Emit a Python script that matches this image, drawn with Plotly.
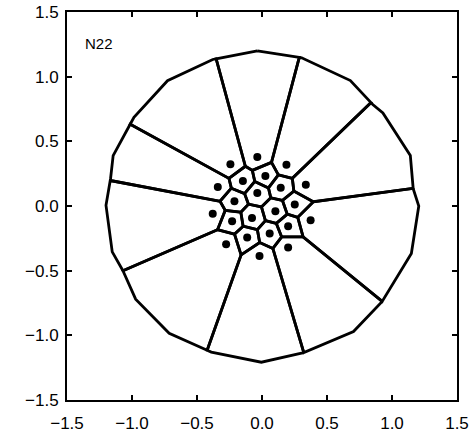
import plotly.graph_objects as go

# Generator points
inner_x = [-0.147, 0.026, 0.144, -0.036, -0.212, 0.252, 0.103, -0.077, -0.230, 0.201, -0.114, 0.059]
inner_y = [0.193, 0.231, 0.142, 0.100, 0.036, 0.011, -0.041, -0.093, -0.118, -0.157, -0.244, -0.213]
outer_x = [-0.036, -0.243, 0.188, -0.340, 0.337, -0.379, 0.374, -0.276, 0.201, -0.019]
outer_y = [0.378, 0.322, 0.319, 0.146, 0.165, -0.059, -0.110, -0.295, -0.321, -0.386]

# Outer bounding polygon (clockwise from top)
bound_x = [-0.036, 0.305, 0.680, 0.852, 0.93, 1.141, 1.163, 1.206, 1.149, 0.923, 0.704, 0.325,
           -0.005, -0.39, -0.714, -0.972, -1.062, -1.152, -1.200, -1.165, -1.145, -0.985, -0.727, -0.379]
bound_y = [1.200, 1.146, 0.970, 0.785, 0.72, 0.390, 0.134, 0.000, -0.367, -0.740, -0.971, -1.133,
           -1.208, -1.13, -0.984, -0.720, -0.514, -0.355, 0.005, 0.211, 0.390, 0.686, 0.969, 1.133]

tick_vals = [-1.5, -1.0, -0.5, 0.0, 0.5, 1.0, 1.5]
label_text = "N22"

pts = list(zip(inner_x + outer_x, inner_y + outer_y))
boundary = list(zip(bound_x, bound_y))


def clip(poly, px, py, qx, qy):
    # keep the side closer to p than to q
    nx, ny = qx - px, qy - py
    mx, my = (px + qx) / 2, (py + qy) / 2

    def f(v):
        return (v[0] - mx) * nx + (v[1] - my) * ny

    out = []
    n = len(poly)
    for k in range(n):
        a = poly[k]
        b = poly[(k + 1) % n]
        fa, fb = f(a), f(b)
        if fa <= 0:
            out.append(a)
        if (fa < 0 < fb) or (fb < 0 < fa):
            t = fa / (fa - fb)
            out.append((a[0] + t * (b[0] - a[0]), a[1] + t * (b[1] - a[1])))
    return out


cx, cy = [], []
for i, (px, py) in enumerate(pts):
    poly = list(boundary)
    for j, (qx, qy) in enumerate(pts):
        if i == j:
            continue
        poly = clip(poly, px, py, qx, qy)
        if not poly:
            break
    if poly:
        for v in poly + [poly[0]]:
            cx.append(v[0])
            cy.append(v[1])
        cx.append(None)
        cy.append(None)

fig = go.Figure()
fig.add_trace(go.Scatter(x=cx, y=cy, mode="lines",
                         line=dict(color="black", width=2.8),
                         hoverinfo="skip", showlegend=False))
fig.add_trace(go.Scatter(x=inner_x + outer_x, y=inner_y + outer_y, mode="markers",
                         marker=dict(color="black", size=8),
                         showlegend=False))

fig.add_annotation(x=-1.38, y=1.26, text=label_text, showarrow=False,
                   xanchor="left", yanchor="middle",
                   font=dict(size=15, color="black", family="Liberation Sans, Arial"))

axis_common = dict(range=[-1.5, 1.5], tickvals=tick_vals, tickformat=".1f",
                   ticks="inside", ticklen=5, tickwidth=1.5, tickcolor="black",
                   showline=True, linecolor="black", linewidth=2, mirror="ticks",
                   showgrid=False, zeroline=False, automargin=False,
                   tickfont=dict(size=17, color="black", family="Liberation Sans, Arial"))

fig.update_xaxes(**axis_common, ticklabelstandoff=7)
fig.update_yaxes(**axis_common, ticklabelstandoff=3)

fig.update_layout(width=474, height=438,
                  margin=dict(l=67, r=17, t=12, b=38),
                  plot_bgcolor="white", paper_bgcolor="white")

fig.write_html("out.html")
